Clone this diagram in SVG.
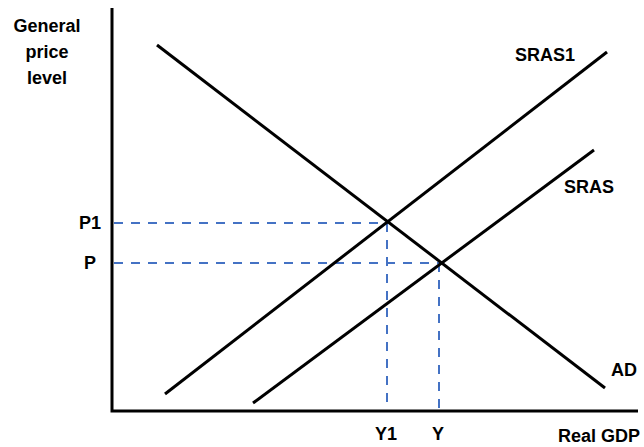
<svg xmlns="http://www.w3.org/2000/svg" width="644" height="447" viewBox="0 0 644 447">
<style>
text{font-family:"Liberation Sans",Arial,sans-serif;font-weight:bold;font-size:18px;fill:#000}
.axis{stroke:#000;stroke-width:3;fill:none}
.curve{stroke:#000;stroke-width:3;fill:none}
.dash{stroke:#4472C4;stroke-width:2;fill:none;stroke-dasharray:9 8}
</style>
<rect width="644" height="447" fill="#fff"/>
<g id="axes">
<polyline class="axis" points="112,8 112,411 638,411"/>
</g>
<g id="connectors">
<line class="dash" x1="114" y1="223" x2="387" y2="223"/>
<line class="dash" x1="114" y1="263" x2="439" y2="263"/>
<line class="dash" x1="387" y1="223" x2="387" y2="410"/>
<line class="dash" x1="439" y1="263" x2="439" y2="410"/>
</g>
<g id="AD">
<line class="curve" x1="157" y1="45" x2="605" y2="388"/>
<text x="637" y="376" text-anchor="end">AD</text>
</g>
<g id="SRAS1">
<line class="curve" x1="165" y1="394" x2="607" y2="52"/>
<text x="545" y="61" text-anchor="middle">SRAS1</text>
</g>
<g id="SRAS">
<line class="curve" x1="253" y1="403" x2="594" y2="150"/>
<text x="589" y="193" text-anchor="middle">SRAS</text>
</g>
<g id="y-label">
<text x="47" y="32" text-anchor="middle">General</text>
<text x="47" y="58" text-anchor="middle">price</text>
<text x="47" y="84" text-anchor="middle">level</text>
</g>
<g id="price-labels">
<text x="90" y="229" text-anchor="middle">P1</text>
<text x="90" y="269" text-anchor="middle">P</text>
</g>
<g id="gdp-labels">
<text x="386" y="440" text-anchor="middle">Y1</text>
<text x="438" y="440" text-anchor="middle">Y</text>
<text x="640" y="442" text-anchor="end">Real GDP</text>
</g>
</svg>
